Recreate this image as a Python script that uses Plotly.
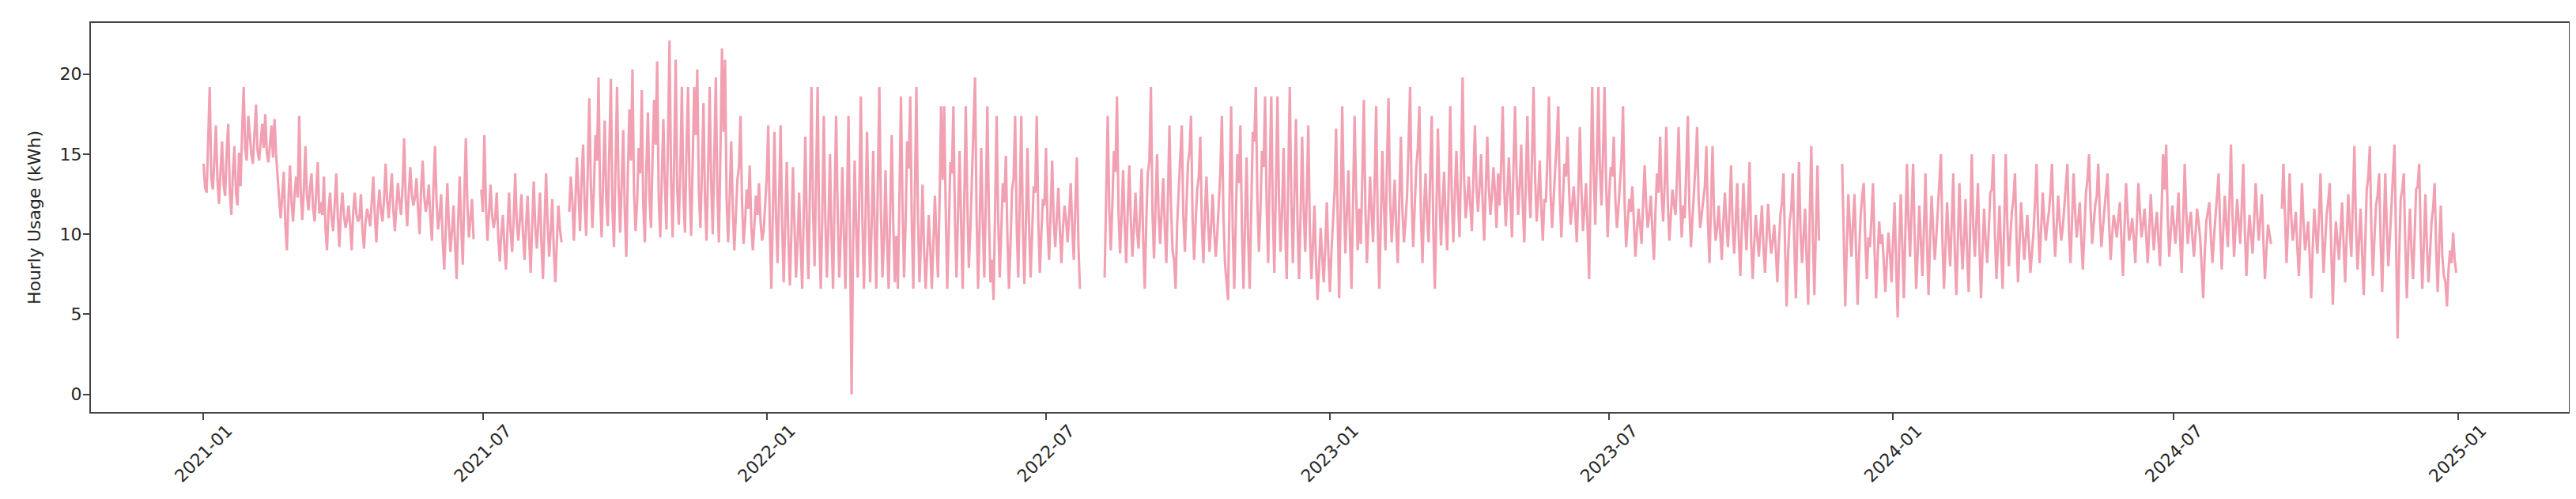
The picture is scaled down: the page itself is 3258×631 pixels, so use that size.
import pandas as pd
import plotly.graph_objects as go

# Daily usage values (kWh); None = missing data
usage_2021 = [
    14.4, 12.9, 12.6, 16.2, 19.2, 13.5, 12.8, 14.6, 16.8, 13.4, 11.9, 14.0, 15.8, 13.1, 12.4, 15.2, 16.9, 12.7, 11.2, 13.8, 15.5, 12.6, 11.8, 15.1, 13.0, 16.5, 19.2, 15.3, 14.6, 17.4,
    16.2, 15.0, 14.4, 16.6, 18.1, 15.2, 14.6, 15.7, 16.9, 15.4, 17.5, 15.1, 14.5, 15.6, 16.8, 14.8, 17.2, 15.0, 13.3, 12.2, 11.0, 12.4, 13.9, 10.6, 9.0, 12.1, 14.3, 12.0, 10.8, 12.5,
    13.6, 12.3, 17.4, 12.6, 10.9, 12.8, 15.5, 12.4, 11.5, 12.9, 13.8, 11.6, 10.8, 12.6, 14.5, 11.3, 12.0, 11.2, 13.6, 10.4, 9.0, 11.5, 12.6, 11.0, 10.2, 11.9, 13.8, 11.1, 9.2, 11.4,
    12.6, 11.2, 10.4, 10.9, 11.8, 10.6, 9.0, 11.4, 12.6, 11.3, 10.8, 11.0, 12.5, 10.2, 9.1, 10.8, 11.6, 11.1, 10.5, 12.0, 13.6, 11.2, 9.5, 11.6, 12.8, 11.4, 10.8, 12.2, 14.4, 12.1,
    11.0, 12.4, 13.8, 11.5, 10.2, 11.8, 13.2, 12.0, 11.2, 13.0, 16.0, 12.2, 10.5, 12.6, 14.2, 12.5, 11.8, 12.3, 13.5, 11.6, 10.0, 12.8, 14.6, 12.4, 11.4, 12.0, 13.1, 11.0, 9.6, 12.9,
    15.5, 12.1, 10.3, 11.2, 12.5, 9.6, 7.8, 10.4, 13.2, 10.6, 8.9, 10.2, 11.8, 9.4, 7.2, 10.8, 13.6, 10.5, 8.1, 12.4, 16.0, 11.8, 9.8, 11.0, 12.2, 9.7, None, None, None, None,
    12.8, 11.4, 16.2, 11.8, 9.6, 11.5, 13.1, 11.2, 10.4, 11.0, 12.6, 9.8, 8.3, 10.1, 11.2, 9.2, 7.8, 10.3, 12.6, 10.2, 8.9, 11.0, 13.8, 10.7, 9.6, 10.9, 12.5, 10.1, 8.4, 10.5,
    12.4, 9.8, 7.6, 10.6, 13.3, 10.4, 9.1, 10.8, 12.6, 9.4, 7.2, 10.7, 13.8, 10.6, 8.6, 10.2, 12.2, 9.0, 7.0, 9.6, 11.8, 10.3, 9.5, None, None, None, None, 11.4, 13.6, 12.2,
    9.6, 12.0, 14.8, 12.6, 10.2, 13.4, 15.6, 11.8, 9.9, 14.0, 18.5, 13.2, 10.4, 12.8, 16.2, 14.6, 19.8, 12.4, 9.8, 13.6, 17.1, 12.2, 10.5, 15.4, 19.7, 11.6, 9.2, 14.2, 19.2, 13.0,
    10.1, 13.2, 16.5, 11.4, 8.6, 13.8, 17.8, 14.6, 20.3, 12.6, 10.2, 12.0, 15.4, 13.8, 19.0, 11.8, 9.5, 14.2, 17.6, 12.3, 10.4, 14.8, 18.4, 15.6, 20.8, 12.2, 9.8, 13.6, 17.2, 13.1,
    10.3, 15.8, 22.1, 13.4, 9.8, 14.6, 20.9, 12.8, 10.6, 14.1, 19.2, 12.4, 10.1, 15.2, 19.2, 13.0, 9.9, 14.4, 19.2, 16.2, 20.3, 12.7, 10.4, 13.9, 18.2, 12.1, 9.6, 14.0, 19.2, 13.3,
    10.0, 14.8, 19.8, 12.6, 9.5, 15.2, 21.6, 16.4, 20.9, 12.2, 9.5, 12.4, 15.8, 11.6, 9.0, 11.2, 13.4, 14.2, 17.4, 12.0, 9.4, 10.8, 12.8, 11.6, 14.3, 10.5, 9.0, 10.6, 12.4, 11.2,
    13.2, 10.8, 9.6, 10.2, 11.8,
]

usage_2022 = [
    13.6, 16.8, 10.4, 6.6, 11.8, 16.4, 11.2, 8.2, 12.2, 16.8, 10.6, 7.0, 10.8, 14.5, 9.8, 6.8, 10.2, 14.2, 10.5, 7.3, 9.6, 12.6, 9.2, 6.6, 11.4,
    16.1, 10.4, 7.2, 12.8, 19.2, 11.6, 8.0, 13.4, 19.2, 10.2, 6.6, 11.0, 17.4, 10.8, 7.3, 10.6, 15.0, 9.8, 6.6, 12.4, 17.4, 11.2, 7.3, 9.9, 14.2, 10.1, 6.6, 11.8, 17.4, 9.6,
    0.0, 9.4, 14.6, 10.3, 7.3, 12.5, 18.6, 11.0, 6.6, 10.9, 16.4, 11.4, 7.0, 10.6, 15.2, 10.0, 6.6, 13.2, 19.2, 11.5, 7.3, 9.8, 14.0, 9.5, 6.6, 11.3, 16.2, 10.7, 7.0, 9.9,
    6.6, 12.2, 18.6, 11.8, 7.3, 10.7, 15.8, 14.1, 18.6, 10.9, 6.6, 12.6, 19.2, 11.2, 7.0, 9.6, 13.1, 9.0, 6.6, 8.8, 11.2, 9.1, 6.6, 9.4, 12.4, 9.7, 7.3, 12.0, 18.0, 13.4,
    18.0, 11.6, 6.6, 10.2, 14.5, 13.8, 18.0, 10.8, 7.3, 11.4, 15.2, 10.6, 6.6, 11.9, 18.0, 12.0, 7.9, 10.4, 13.6, 15.6, 19.8, 11.3, 6.6, 10.5, 15.4, 10.9, 7.3, 12.1, 18.0, 11.2,
    7.0, 8.4, 5.9, 11.5, 17.4, 11.0, 7.3, 10.2, 13.2, 12.0, 14.9, 9.8, 6.6, 9.4, 12.8, 13.5, 17.4, 10.6, 7.3, 12.2, 17.4, 10.4, 6.9, 10.8, 15.4, 10.6, 7.3, 10.0, 13.0, 12.6,
    17.4, 10.9, 7.6, 10.1, 12.2, 11.8, 15.4, 10.6, 8.4, 11.4, 14.6, 10.8, 9.2, 11.0, 12.9, 10.2, 8.2, 10.4, 11.8, 10.9, 9.5, 11.2, 13.2, 10.4, 8.4, 11.8, 14.8, 9.4, 6.6, None,
    None, None, None, None, None, None, None, None, None, None, None, None, None, None, 7.3, 12.4, 17.4, 11.6, 9.0, 11.8, 15.2, 13.9, 18.6, 11.4, 8.8, 11.2, 14.0, 10.6, 8.2, 11.6,
    14.3, 10.8, 8.6, 10.5, 12.6, 10.2, 9.1, 11.4, 14.1, 9.6, 6.6, 10.8, 13.8, 14.6, 19.2, 11.4, 8.5, 11.8, 15.0, 11.2, 9.4, 11.6, 13.5, 10.4, 8.2, 12.2, 16.8, 11.8, 9.0, 8.4,
    6.6, 10.6, 13.2, 14.8, 16.8, 11.2, 8.9, 11.6, 14.4, 15.2, 17.4, 11.0, 8.4, 10.8, 12.8, 13.6, 16.1, 10.6, 8.2, 11.4, 13.6, 10.8, 8.9, 10.5, 12.5, 10.2, 8.6, 10.0, 11.8, 13.9,
    17.4, 11.2, 8.2, 7.0, 5.9, 12.6, 18.0, 10.4, 6.6, 10.8, 15.0, 13.2, 16.8, 10.2, 6.6, 10.6, 14.8, 9.8, 6.6, 11.4, 16.4, 15.8, 19.2, 12.1, 8.9, 11.6, 15.2, 14.2, 18.6, 11.8,
    8.2, 13.8, 18.6, 11.4, 7.6, 12.8, 18.6, 12.3, 8.9, 11.5, 15.4, 10.4, 7.2, 13.4, 19.2, 12.0, 8.2, 12.6, 17.2, 10.8, 7.2, 11.2, 16.1, 11.6, 8.9, 12.4, 16.8, 10.2, 7.2, 9.4,
    11.8, 8.2, 5.9, 8.0, 10.4, 8.6, 7.0, 9.2, 12.0, 8.8,
]

usage_2023 = [
    6.4, 8.9, 11.2, 12.6, 16.6, 10.2, 6.0, 11.8, 18.0, 12.4, 8.8, 11.4, 14.0, 9.8, 6.6, 12.0, 17.4, 12.6, 9.0, 11.6,
    9.4, 13.6, 18.4, 11.6, 8.2, 10.8, 13.6, 11.4, 9.5, 13.2, 18.0, 10.6, 6.6, 10.9, 15.2, 11.8, 9.0, 14.4, 18.5, 12.2, 9.5, 11.4, 13.4, 10.3, 8.2, 12.1, 16.1, 11.5, 9.5, 10.8,
    12.4, 15.6, 19.2, 12.0, 9.2, 11.8, 14.2, 15.4, 18.0, 11.2, 8.2, 11.6, 13.8, 11.0, 9.5, 13.8, 17.4, 10.4, 6.6, 11.2, 16.6, 12.5, 9.3, 11.8, 13.9, 10.9, 9.0, 13.1, 18.0, 12.3,
    9.5, 12.6, 15.2, 12.2, 9.8, 14.2, 19.8, 13.4, 11.0, 12.1, 13.6, 11.8, 10.2, 13.6, 16.8, 12.9, 11.4, 13.0, 15.0, 12.0, 9.6, 12.8, 16.1, 13.0, 11.2, 12.4, 14.2, 12.6, 10.4, 13.8,
    11.8, 14.4, 18.0, 12.8, 10.5, 12.6, 14.8, 12.2, 9.8, 14.2, 18.0, 13.6, 11.2, 13.1, 15.6, 11.8, 9.5, 13.4, 17.4, 12.7, 11.0, 15.0, 19.2, 13.5, 10.8, 12.4, 14.6, 11.6, 9.6, 12.2,
    12.0, 14.8, 18.6, 12.6, 10.4, 12.2, 13.8, 15.8, 18.0, 12.4, 9.8, 12.0, 14.4, 13.6, 16.1, 12.8, 10.6, 11.8, 13.0, 11.4, 9.5, 12.6, 16.7, 12.9, 10.2, 11.6, 13.2, 10.4, 7.2, 13.4,
    19.2, 13.8, 10.6, 14.6, 19.2, 14.1, 11.8, 15.0, 19.2, 13.2, 9.8, 12.4, 14.2, 13.6, 16.1, 12.2, 10.4, 11.6, 13.0, 14.8, 18.0, 12.0, 9.2, 11.0, 12.2, 11.4, 13.0, 10.8, 8.6, 10.2,
    11.6, 10.6, 9.4, 12.0, 14.3, 11.8, 10.4, 11.2, 12.4, 10.2, 8.4, 11.4, 13.8, 12.6, 16.1, 12.4, 10.8, 13.2, 16.7, 12.0, 9.6, 11.2, 12.8, 11.9, 11.2, 13.6, 16.7, 12.3, 9.8, 11.8,
    11.0, 14.2, 17.4, 11.6, 9.2, 11.0, 12.6, 14.4, 16.7, 12.1, 10.4, 11.4, 12.2, 13.0, 15.5, 10.8, 8.2, 11.6, 15.5, 11.2, 9.6, 10.4, 11.8, 10.0, 8.4, 10.8, 12.6, 10.6, 9.2, 11.4,
    14.3, 10.6, 8.8, 10.8, 13.2, 9.8, 7.4, 10.4, 13.2, 10.8, 9.0, 11.6, 14.5, 9.6, 7.2, 9.4, 11.2, 9.8, 8.6, 10.2, 11.8, 9.2, 7.6, 9.8, 11.9, 10.0, 8.8, 9.6, 10.6, 9.0,
    7.0, 9.4, 11.2, 12.0, 13.8, 9.2, 5.5, 8.8, 10.8, 11.6, 13.8, 9.4, 6.0, 10.6, 14.5, 10.2, 8.2, 9.9, 11.6, 8.4, 5.6, 11.2, 15.5, 9.8, 6.2, 10.4, 14.3, 9.6, None, None,
    None, None, None, None, None, None, None, None, None, None, None, None, 14.4, 9.8, 5.5, 9.2, 12.5, 10.4, 8.6, 10.6, 12.5, 9.0, 5.6, 8.8, 11.2, 12.4, 13.2, 9.6, 7.2, 9.8,
    9.2, 11.0, 13.2, 9.0, 6.0, 8.6, 10.8, 9.4, 10.0, 8.2, 6.4, 8.4, 10.1, 8.8, 7.0,
]

usage_2024 = [
    9.6, 12.0, 8.0, 4.8, 9.4, 12.5, 9.2, 6.0, 10.2, 14.4, 10.8, 8.6, 11.6, 14.4, 9.8,
    6.6, 9.0, 11.8, 9.6, 7.4, 10.4, 13.8, 9.4, 6.2, 9.8, 12.4, 10.2, 8.4, 9.8, 11.6, 12.8, 15.0, 9.6, 6.6, 9.2, 12.0, 9.8, 8.0, 10.6, 13.8, 9.0, 6.2, 9.6, 13.2, 10.0,
    7.8, 9.8, 12.2, 8.8, 6.4, 10.6, 15.0, 10.4, 8.6, 10.8, 13.2, 9.2, 6.0, 9.0, 11.6, 9.6, 8.2, 10.2, 12.6, 12.8, 15.0, 10.0, 7.2, 9.4, 11.8, 9.0, 6.6, 10.4, 15.0, 10.8,
    8.0, 9.8, 11.4, 12.2, 13.8, 9.8, 7.0, 9.6, 12.0, 10.2, 8.4, 9.8, 11.2, 9.4, 7.6, 8.8, 10.1, 12.0, 14.4, 10.6, 8.2, 10.4, 12.6, 10.8, 9.6, 10.6, 11.4, 12.6, 14.4, 10.8,
    8.6, 10.4, 12.4, 10.8, 9.6, 10.4, 11.8, 12.8, 14.4, 10.2, 8.2, 10.9, 13.8, 11.4, 9.8, 10.8, 12.0, 9.6, 7.8, 10.2, 12.6, 13.4, 15.0, 11.6, 9.4, 10.6, 11.8, 12.4, 14.4, 11.2,
    9.2, 10.4, 11.6, 12.4, 13.8, 10.6, 8.4, 10.0, 11.2, 10.6, 9.8, 11.0, 12.0, 9.6, 7.4, 10.4, 13.2, 11.2, 9.6, 10.2, 11.0, 9.8, 8.2, 10.8, 13.2, 11.4, 9.8, 10.6, 11.6, 10.0,
    8.2, 10.2, 12.5, 10.6, 9.0, 10.4, 11.4, 9.6, 8.0, 11.4, 15.0, 12.8, 15.6, 11.0, 8.6, 10.2, 11.8, 10.6, 9.4, 10.8, 12.6, 9.8, 7.6, 10.8, 14.4, 11.4, 9.4, 10.6, 11.4, 9.8,
    8.6, 10.0, 11.6, 10.8, 9.8, 8.0, 6.0, 8.8, 10.8, 11.4, 12.0, 9.8, 8.2, 9.8, 11.2, 12.2, 13.8, 10.4, 7.8, 10.2, 12.4, 10.6, 9.2, 12.0, 15.6, 11.2, 8.6, 10.4, 12.2, 10.8,
    9.4, 11.8, 14.4, 10.2, 7.4, 9.6, 11.2, 10.0, 8.8, 10.8, 13.2, 11.2, 9.6, 11.0, 12.5, 9.6, 7.2, 9.0, 10.6, 10.0, 9.4, None, None, None, None, None, None, 11.6, 14.4, 11.2,
    8.2, 10.6, 13.8, 11.2, 9.6, 10.4, 11.4, 9.2, 7.4, 10.0, 13.2, 10.8, 9.0, 9.8, 10.8, 8.6, 6.0, 9.2, 11.6, 10.2, 8.8, 11.0, 13.8, 10.4, 7.6, 9.4, 11.2, 12.0, 13.2, 9.0,
    5.6, 8.8, 10.8, 9.6, 8.4, 10.2, 12.0, 9.4, 7.0, 9.8, 12.5, 10.4, 8.6, 12.0, 15.5, 10.6, 7.8, 9.6, 11.6, 8.8, 6.2, 9.4, 12.8, 13.6, 15.5, 10.2, 7.4, 9.8, 11.8, 12.4,
    13.8, 9.6, 6.4, 10.2, 13.8, 10.4, 8.0, 9.8, 11.8, 13.2, 15.6, 9.4, 3.5, 8.6, 12.2, 12.8, 13.8, 9.2, 6.0, 9.4, 11.6, 9.0, 7.2, 9.8, 12.8, 13.0, 14.4, 9.6, 6.6, 9.4,
    12.5, 9.2, 7.0, 8.8, 10.8, 11.6, 13.2, 9.0, 6.4, 9.4, 11.8, 8.6, 7.4, 7.0, 5.5, 7.8, 9.0, 8.2, 10.1, 8.4, 7.6,
]

tick_dates = ["2021-01-01", "2021-07-01", "2022-01-01", "2022-07-01", "2023-01-01",
              "2023-07-01", "2024-01-01", "2024-07-01", "2025-01-01"]
tick_labels = ["2021-01", "2021-07", "2022-01", "2022-07", "2023-01",
               "2023-07", "2024-01", "2024-07", "2025-01"]
y_ticks = [0, 5, 10, 15, 20]

values = usage_2021 + usage_2022 + usage_2023 + usage_2024
dates = pd.date_range("2021-01-01", periods=len(values), freq="D")

fig = go.Figure()
fig.add_trace(go.Scatter(
    x=dates, y=values, mode="lines",
    line=dict(color="rgba(220,20,60,0.4)", width=3.1),
    connectgaps=False, showlegend=False,
))

font = dict(family="DejaVu Sans, sans-serif", size=22, color="#262626")
axis_common = dict(
    showline=True, linecolor="#444", linewidth=2, mirror=True,
    ticks="outside", ticklen=8, tickwidth=1.8, tickcolor="#444",
    showgrid=False, zeroline=False, tickfont=font, automargin=False,
)
fig.update_xaxes(
    type="date", range=["2020-10-20", "2025-03-14"],
    tickvals=tick_dates, ticktext=tick_labels, tickangle=-45,
    ticklabelshift=30, ticklabelstandoff=-8,
    **axis_common,
)
fig.update_yaxes(
    range=[-1.1, 23.2], tickvals=y_ticks,
    title=dict(text="Hourly Usage (kWh)", font=font, standoff=18),
    ticklabelstandoff=-3,
    **axis_common,
)
fig.update_layout(
    width=3258, height=631,
    margin=dict(l=107, r=17, t=21, b=118),
    paper_bgcolor="white", plot_bgcolor="white",
    font=font,
)
fig.write_html("out.html")
